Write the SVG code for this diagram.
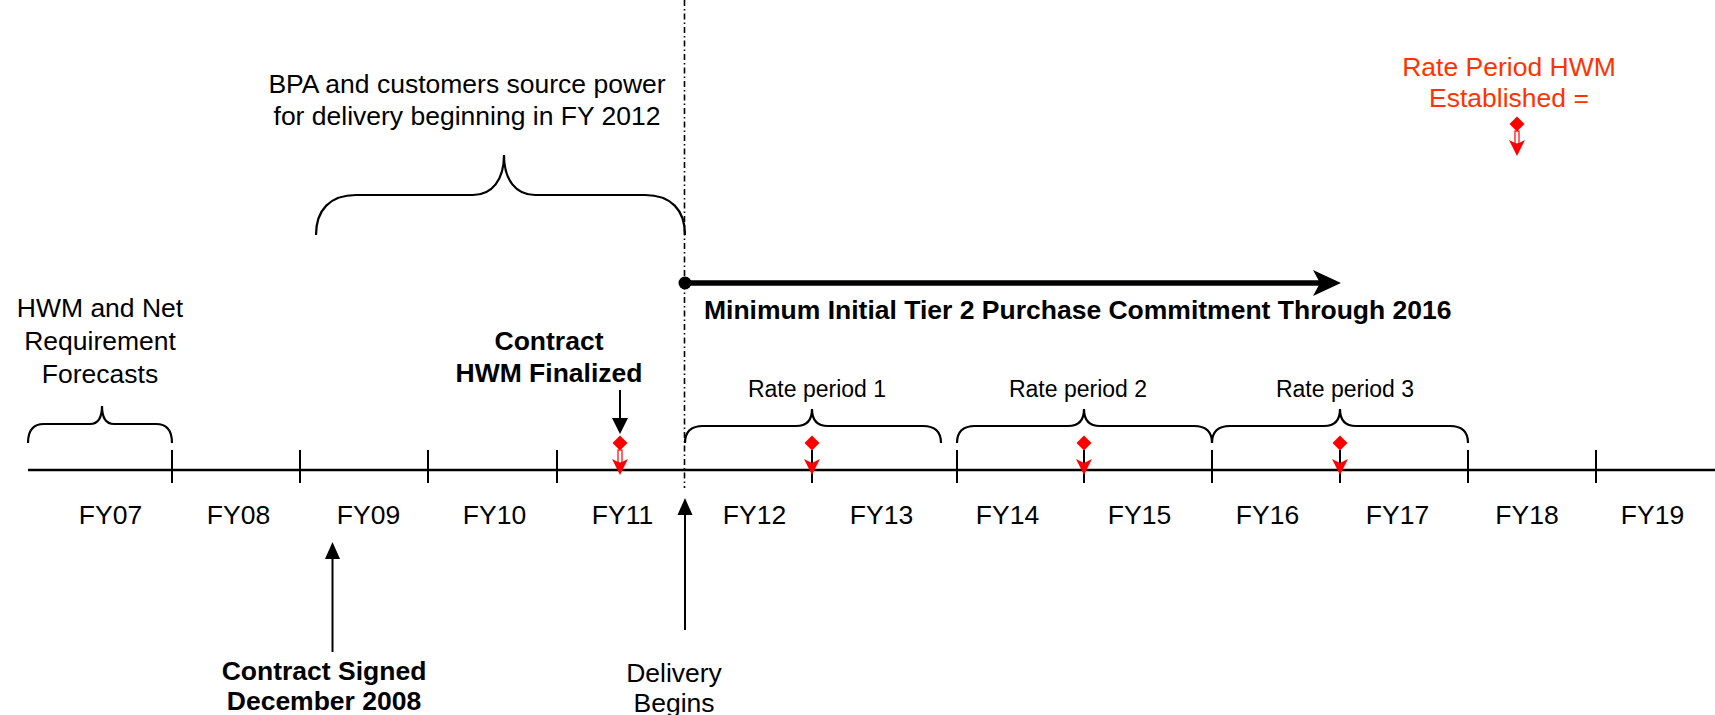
<svg xmlns="http://www.w3.org/2000/svg" width="1715" height="715" viewBox="0 0 1715 715">
<defs>
<style>
text{font-family:"Liberation Sans",Arial,sans-serif;font-size:26.5px;fill:#000}
.b{font-weight:bold}
.c{text-anchor:middle}
.red{fill:#ff3300}
.rp{font-size:23px}
.brace{fill:none;stroke:#000;stroke-width:2.2}
.tick{stroke:#000;stroke-width:2}
.ax{stroke:#000;stroke-width:2.6}
.ln{stroke:#000;stroke-width:2}
</style>
<g id="mk">
<polygon points="0,-7.5 7.5,0 0,7.5 -7.5,0" fill="#ff0000"/>
<rect x="-2" y="7" width="4" height="13" fill="#fff" stroke="#ff0000" stroke-width="1.2"/>
<path d="M0,32 L-8,16 L0,20 L8,16 Z" fill="#ff0000"/>
</g>
<g id="mk2">
<polygon points="0,-7.5 7.5,0 0,7.5 -7.5,0" fill="#ff0000"/>
<path d="M0,32 L-8,16 L0,20 L8,16 Z" fill="#ff0000"/>
</g>
</defs>
<rect width="1715" height="715" fill="#fff"/>

<g id="connectors">
<line x1="684.5" y1="0" x2="684.5" y2="488" stroke="#000" stroke-width="1.6" stroke-dasharray="6,3,1.5,3"/>
<line class="ax" x1="28" y1="470" x2="1715" y2="470"/>
<g id="ticks">
<line class="tick" x1="172" y1="450" x2="172" y2="483"/>
<line class="tick" x1="300" y1="450" x2="300" y2="483"/>
<line class="tick" x1="428" y1="450" x2="428" y2="483"/>
<line class="tick" x1="557" y1="450" x2="557" y2="483"/>
<line class="tick" x1="957" y1="450" x2="957" y2="483"/>
<line class="tick" x1="1212" y1="450" x2="1212" y2="483"/>
<line class="tick" x1="1468" y1="450" x2="1468" y2="483"/>
<line class="tick" x1="1596" y1="450" x2="1596" y2="483"/>
</g>
<g id="commitment-arrow">
<line x1="685" y1="283" x2="1320" y2="283" stroke="#000" stroke-width="5.5"/>
<circle cx="685" cy="283" r="6.5" fill="#000"/>
<path d="M1341,283 L1313,270 L1320,283 L1313,296 Z" fill="#000"/>
</g>
<g id="hwm-final-arrow">
<line class="ln" x1="620" y1="390" x2="620" y2="420"/>
<path d="M620,434 L612,418 L628,418 Z" fill="#000"/>
</g>
<g id="signed-arrow">
<line class="ln" x1="332.5" y1="652" x2="332.5" y2="556"/>
<path d="M332.5,542 L325,559 L340,559 Z" fill="#000"/>
</g>
<g id="delivery-arrow">
<line class="ln" x1="685" y1="630" x2="685" y2="512"/>
<path d="M685,498 L677.5,515 L692.5,515 Z" fill="#000"/>
</g>
</g>

<g id="braces">
<path class="brace" d="M28,443 Q28,424 44,424 L90,424 Q102,424 102,406 Q102,424 114,424 L156,424 Q172,424 172,443"/>
<path class="brace" d="M316,235 C316,210 330,195 356,195 L473,195 C492,195 504,180 504,155 C504,180 516,195 535,195 L645,195 C671,195 685,210 685,235"/>
<path class="brace" d="M685,443 Q685,426 703,426 L796,426 Q812,426 812,409 Q812,426 828,426 L923,426 Q941,426 941,443"/>
<path class="brace" d="M957,443 Q957,426 975,426 L1068,426 Q1084,426 1084,409 Q1084,426 1100,426 L1194,426 Q1212,426 1212,443"/>
<path class="brace" d="M1212,443 Q1212,426 1230,426 L1324,426 Q1340,426 1340,409 Q1340,426 1356,426 L1450,426 Q1468,426 1468,443"/>
</g>

<g id="markers">
<line class="tick" x1="812" y1="450" x2="812" y2="483"/>
<line class="tick" x1="1084" y1="450" x2="1084" y2="483"/>
<line class="tick" x1="1340" y1="450" x2="1340" y2="483"/>
<use href="#mk" x="620" y="443"/>
<use href="#mk2" x="812" y="443"/>
<use href="#mk2" x="1084" y="443"/>
<use href="#mk2" x="1340" y="443"/>
</g>

<g id="fy-labels">
<text class="c" x="110.5" y="524">FY07</text>
<text class="c" x="238.5" y="524">FY08</text>
<text class="c" x="368.5" y="524">FY09</text>
<text class="c" x="494.5" y="524">FY10</text>
<text class="c" x="622.5" y="524">FY11</text>
<text class="c" x="754.5" y="524">FY12</text>
<text class="c" x="881.5" y="524">FY13</text>
<text class="c" x="1007.5" y="524">FY14</text>
<text class="c" x="1139.5" y="524">FY15</text>
<text class="c" x="1267.5" y="524">FY16</text>
<text class="c" x="1397.5" y="524">FY17</text>
<text class="c" x="1527" y="524">FY18</text>
<text class="c" x="1652.5" y="524">FY19</text>
</g>

<g id="legend">
<text class="c red" x="1509" y="76">Rate Period HWM</text>
<text class="c red" x="1509" y="107">Established =</text>
<use href="#mk" x="1517" y="124"/>
</g>

<g id="bpa-source">
<text class="c" x="467" y="93">BPA and customers source power</text>
<text class="c" x="467" y="125">for delivery beginning in FY 2012</text>
</g>

<g id="commitment">
<text class="b" x="704" y="319">Minimum Initial Tier 2 Purchase Commitment Through 2016</text>
</g>

<g id="forecasts">
<text class="c" x="100" y="317">HWM and Net</text>
<text class="c" x="100" y="350">Requirement</text>
<text class="c" x="100" y="383">Forecasts</text>
</g>

<g id="hwm-finalized">
<text class="c b" x="549" y="350">Contract</text>
<text class="c b" x="549" y="382">HWM Finalized</text>
</g>

<g id="rate-periods">
<text class="c rp" x="817" y="397">Rate period 1</text>
<text class="c rp" x="1078" y="397">Rate period 2</text>
<text class="c rp" x="1345" y="397">Rate period 3</text>
</g>

<g id="contract-signed">
<text class="c b" x="324" y="680">Contract Signed</text>
<text class="c b" x="324" y="710">December 2008</text>
</g>

<g id="delivery">
<text class="c" x="674" y="682">Delivery</text>
<text class="c" x="674" y="712">Begins</text>
</g>
</svg>
